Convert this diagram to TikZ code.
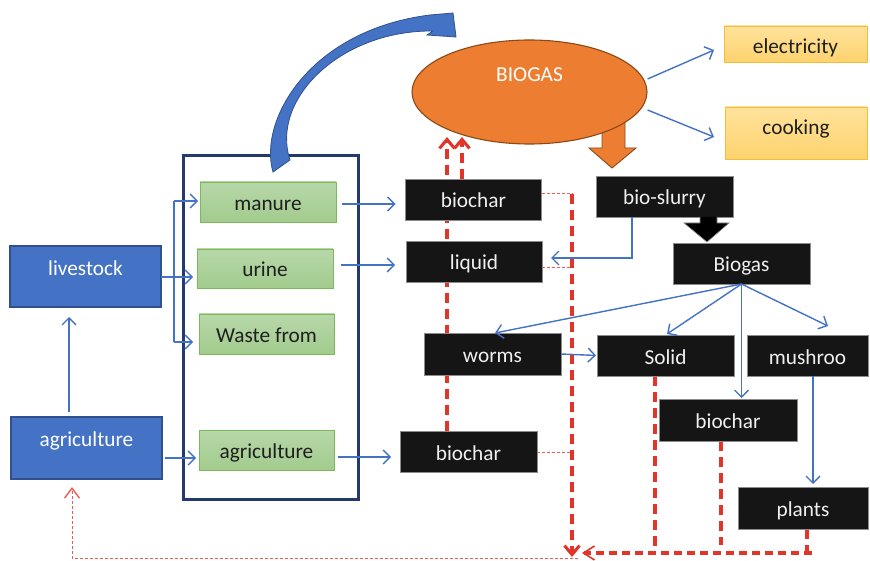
\documentclass[tikz,border=0pt]{standalone}
\usepackage{fontspec}
\setmainfont{Carlito}
\usetikzlibrary{arrows.meta,shapes.geometric,calc}

\definecolor{boxblue}{HTML}{4472C4}
\definecolor{boxblueline}{HTML}{2F528F}
\definecolor{frameblue}{HTML}{233A6B}
\definecolor{arrowblue}{HTML}{4472C4}
\definecolor{orangeF}{HTML}{ED7D31}
\definecolor{orangeL}{HTML}{8A4A17}
\definecolor{greenT}{HTML}{B7D8A9}
\definecolor{greenB}{HTML}{A2CB8D}
\definecolor{greenL}{HTML}{7CB95A}
\definecolor{yelT}{HTML}{FFE29C}
\definecolor{yelB}{HTML}{FED36E}
\definecolor{yelL}{HTML}{F5BE3A}
\definecolor{darkfill}{HTML}{151515}
\definecolor{darkline}{HTML}{8C8C8C}
\definecolor{flowred}{HTML}{E3342A}

\pgfdeclarelayer{bg}
\pgfsetlayers{bg,main}

\begin{document}
\begin{tikzpicture}[x=1pt,y=-1pt,
  font=\fontsize{21.3}{25}\selectfont,
  sz/.style 2 args={minimum width=#1pt,minimum height=#2pt},
  base/.style={rectangle,inner sep=0pt,outer sep=0pt,text height=17pt,text depth=0pt},
  bluebox/.style={base,fill=boxblue,draw=boxblueline,line width=1.4pt,text=white,text depth=18pt},
  greenbox/.style={base,top color=greenT,bottom color=greenB,draw=greenL,line width=0.9pt,text=black!88},
  darkbox/.style={base,fill=darkfill,draw=darkline,line width=0.7pt,text=white!94!black},
  yellowbox/.style={base,top color=yelT,bottom color=yelB,draw=yelL,line width=0.9pt,text=black!88},
  barrow/.style={draw=arrowblue,line width=1.4pt,-{Straight Barb[length=7pt,width=14pt]}},
  bline/.style={draw=arrowblue,line width=1.4pt},
  redthick/.style={draw=flowred,line width=3.1pt,dash pattern=on 10pt off 6pt},
  redthin/.style={draw=flowred!80,line width=1pt,dash pattern=on 3pt off 2pt},
  redtip/.style={-{Straight Barb[length=9pt,width=15pt]}}
]
\begin{pgfonlayer}{bg}
\fill[white] (0,0) rectangle (870,561);
\end{pgfonlayer}
\useasboundingbox (0,0) rectangle (870,561);

% digester frame and its inputs
\node[base,draw=frameblue,line width=3pt,sz={175}{343}] (frame) at (270.5,327.5) {};
\node[bluebox,sz={151}{61}] (livestock) at (85.5,276.5) {livestock};
\node[bluebox,sz={151}{62},text depth=21pt] (agriB) at (86.5,448) {agriculture};
\node[greenbox,sz={136}{40}] (manure) at (268,202) {manure};
\node[greenbox,sz={136}{39}] (urine) at (265,268.5) {urine};
\node[greenbox,sz={135}{40}] (waste) at (266.5,334) {Waste from};
\node[greenbox,sz={135}{40}] (agriG) at (266.5,450) {agriculture};

% products
\node[darkbox,sz={136}{41}] (biochar1) at (473.5,199.5) {biochar};
\node[darkbox,sz={136}{41}] (liquid) at (474,261.5) {liquid};
\node[darkbox,sz={137}{41}] (biochar3) at (468.5,451.5) {biochar};
\node[darkbox,sz={137}{41}] (slurry) at (664.5,196.5) {bio-slurry};
\node[darkbox,sz={137}{41}] (biogas) at (741.5,263.5) {Biogas};
\node[darkbox,sz={137}{42}] (worms) at (492.5,354) {worms};
\node[darkbox,sz={137}{41}] (solid) at (665.5,355.5) {Solid};
\node[darkbox,sz={121}{41}] (mushroo) at (807.5,355.5) {mushroo};
\node[darkbox,sz={138}{42}] (biochar2) at (728,420) {biochar};
\node[darkbox,sz={130}{42}] (plants) at (803,508) {plants};
\node[yellowbox,sz={143}{36},text height=18.6pt] (electricity) at (795.5,44) {electricity};
\node[yellowbox,sz={142}{52},text depth=13pt] (cooking) at (796,133) {cooking};

% block arrow out of the digester gas dome
\filldraw[fill=orangeF,draw=orangeL,line width=0.9pt]
  (602,120) -- (602,148) -- (589,148) -- (612,168) -- (636,148) -- (625,148) -- (625,120);
\node[ellipse,fill=orangeF,draw=orangeL,line width=1.1pt,minimum width=235pt,minimum height=104pt,
      inner sep=0pt,text=white,text height=14pt,text depth=34pt] (bigE) at (529.5,92) {BIOGAS};

% black block arrow from slurry to biogas
\filldraw[fill=black,draw=darkline,line width=0.6pt]
  (700,217) -- (700,223) -- (684,223) -- (707,242) -- (729,223) -- (717,223) -- (717,217);

% curved feed arrow from the frame into the biogas unit
\filldraw[fill=boxblue,draw=boxblueline,line width=0.8pt]
  (273,172) .. controls (258,120) and (310,30) .. (430,15) -- (453,13) -- (456,37) -- (427,35)
  -- (433,31) .. controls (340,30) and (270,100) .. (290,160) -- cycle;

% free ends of the return lines
\coordinate (upA) at (447,137);
\coordinate (upB) at (462,137);
\coordinate (rvTop) at (572,194);
\coordinate (rvEnd) at (572,557);
\coordinate (solidEnd) at (655,549);
\coordinate (charEnd) at (721,545);
\coordinate (plantsEnd) at (807,551);
\coordinate (hStart) at (812,553);
\coordinate (hEnd) at (582,553);
\coordinate (loopStart) at (578,558);
\coordinate (loopEnd) at (72,487);
\coordinate (forkTop) at (174,201);
\coordinate (forkBot) at (174,342);

% red return flows
\begin{pgfonlayer}{bg}
\draw[redthick,redtip] (biochar3.north -| 447,0) -- (upA);
\draw[redthick,redtip] (biochar1.north -| 462,0) -- (upB);
\draw[redthin] (biochar1.east |- 0,194) -- (rvTop);
\draw[redthin] (liquid.east |- 0,268) -- (rvTop |- 0,268);
\draw[redthin] (biochar3.east |- 0,452) -- (rvTop |- 0,452);
\draw[redthick,redtip] (rvTop) -- (rvEnd);
\draw[redthick] (solid.south -| 655,0) -- (solidEnd);
\draw[redthick] (biochar2.south -| 721,0) -- (charEnd);
\draw[redthick] (plants.south -| 807,0) -- (plantsEnd);
\draw[redthick,dash pattern=on 8pt off 5pt,-{Straight Barb[length=11pt,width=14pt,line width=1.6pt]}] (hStart) -- (hEnd);
\draw[redthin,-{Straight Barb[length=10pt,width=15pt,line width=1.4pt]}] (loopStart) -| (loopEnd);
\end{pgfonlayer}

% blue flows
\draw[bline] (forkTop) -- (forkBot);
\draw[barrow,shorten >=2pt] (forkTop) -- (manure.west |- forkTop);
\draw[barrow,shorten >=6pt] (forkBot) -- (waste.west |- forkBot);
\draw[barrow,shorten >=4pt] (livestock.east |- 0,277) -- (urine.west |- 0,277);
\draw[barrow,shorten <=5pt,shorten >=10pt] (agriB.north -| 69,0) -- (livestock.south -| 69,0);
\draw[barrow,shorten <=3pt,shorten >=3pt] (agriB.east |- 0,458) -- (agriG.west |- 0,458);
\draw[barrow,shorten <=6pt,shorten >=10pt] (manure.east |- 0,204) -- (biochar1.west |- 0,204);
\draw[barrow,shorten <=8pt,shorten >=11pt] (urine.east |- 0,265) -- (liquid.west |- 0,265);
\draw[barrow,shorten <=4pt,shorten >=9pt] (agriG.east |- 0,457) -- (biochar3.west |- 0,457);
\draw[barrow] ([yshift=13pt]bigE.east) -- ([shift={(-10pt,-6pt)}]electricity.west);
\draw[barrow] ([yshift=-18pt]bigE.east) -- ([shift={(-11pt,-4pt)}]cooking.west);
\draw[barrow] ([xshift=-32.5pt]slurry.south) |- ([shift={(9pt,3.5pt)}]liquid.east);
\draw[barrow] (biogas.south) -- ([xshift=2.5pt]worms.north);
\draw[barrow] (biogas.south) -- ([shift={(1.5pt,1pt)}]solid.north);
\draw[barrow,shorten >=1pt] (biogas.south) -- (biogas.south |- biochar2.north);
\draw[barrow] (biogas.south) -- ([shift={(20.5pt,9pt)}]mushroo.north);
\draw[barrow,shorten >=1pt] (worms.east) -- (solid.west);
\draw[barrow,shorten >=3pt] ([xshift=5.5pt]mushroo.south) -- ([xshift=10pt]plants.north);
\end{tikzpicture}
\end{document}
